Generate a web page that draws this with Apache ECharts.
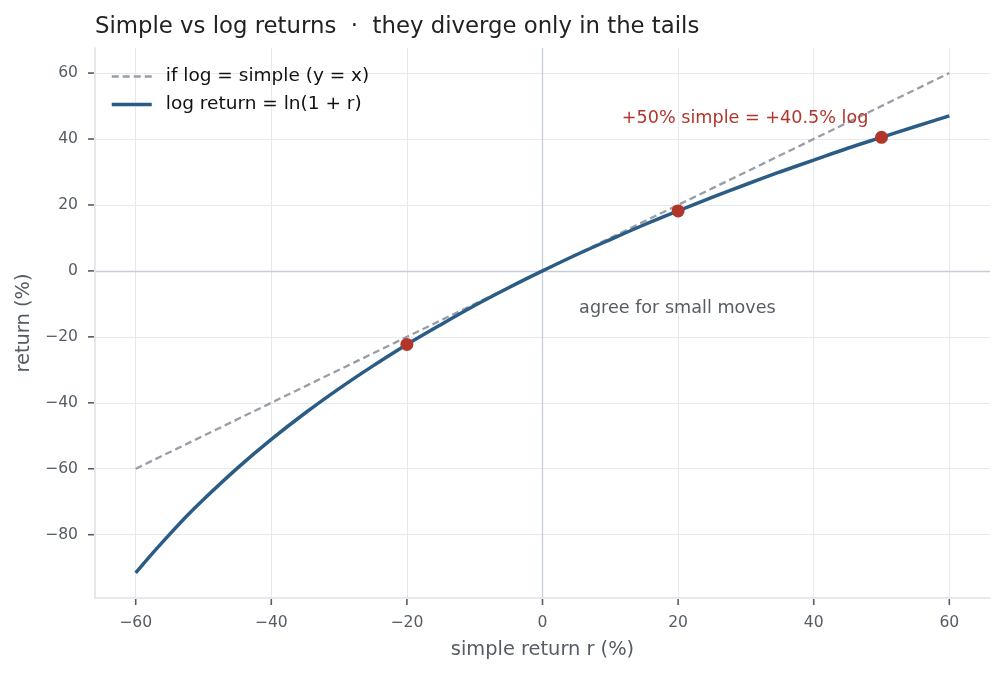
<!DOCTYPE html>
<html>
<head>
<meta charset="utf-8">
<script src="https://cdn.jsdelivr.net/npm/echarts@6/dist/echarts.min.js"></script>
<style>
  html, body { margin: 0; padding: 0; background: #fff; }
  #main { width: 1005px; height: 674px; }
</style>
</head>
<body>
<div id="main"></div>
<script>
// simple return r (%)
const simpleX = [-60, -57.5, -55, -52.5, -50, -45, -40, -35, -30, -25, -20, -15, -10, -5, 0,
    5, 10, 15, 20, 25, 30, 35, 40, 45, 50, 55, 60]
// log return (%) at those points
const logY = [-91.6, -85.6, -79.9, -74.4, -69.3, -59.8, -51.1, -43.1, -35.7, -28.8, -22.3, -16.3, -10.5, -5.1, 0,
    4.9, 9.5, 14.0, 18.2, 22.3, 26.2, 30.0, 33.6, 37.2, 40.5, 43.8, 47.0]
// y = x reference
const refX = [-60, 60]
const refY = [-60, 60]
// highlighted points
const markX = [-20, 20, 50]
const markY = [-22.3, 18.2, 40.5]

const xTicks = [-60, -40, -20, 0, 20, 40, 60]
const yTicks = [-80, -60, -40, -20, 0, 20, 40, 60]

const X_MIN = -66
const X_MAX = 66
const Y_MIN = -99.2
const Y_MAX = 67.6

const font = 'DejaVu Sans'
const labelColor = '#555c66'
const blue = '#2b5c86'
const grey = '#989ea7'
const red = '#b0362c'
const fmt = (v) => String(v).replace('-', '\u2212')

const chart = echarts.init(document.getElementById('main'))

const gridLines = [
    ...xTicks.filter((v) => v !== 0).map((v) => ({ xAxis: v })),
    ...yTicks.filter((v) => v !== 0).map((v) => ({ yAxis: v })),
]

// small outward tick marks drawn through the axis scales
const tickSeries = (vals, horiz) => ({
    type: 'custom',
    silent: true,
    clip: false,
    data: vals,
    renderItem: (params, api) => {
        const v = api.value(0)
        const p = horiz ? api.coord([v, Y_MIN]) : api.coord([X_MIN, v])
        const shape = horiz
            ? { x1: p[0], y1: p[1] + 1, x2: p[0], y2: p[1] + 7 }
            : { x1: p[0] - 1, y1: p[1], x2: p[0] - 7, y2: p[1] }
        return { type: 'line', shape, style: { stroke: labelColor, lineWidth: 1.6 } }
    },
    z: 6,
})

chart.setOption({
    animation: false,
    textStyle: { fontFamily: font },
    title: {
        text: 'Simple vs log returns  \u00b7  they diverge only in the tails',
        left: 90,
        top: 11,
        textStyle: { fontFamily: font, fontSize: 22.8, fontWeight: 'normal', color: '#222' },
    },
    legend: {
        left: 105,
        top: 62,
        orient: 'vertical',
        itemGap: 9,
        itemWidth: 40,
        itemHeight: 12,
        itemStyle: { opacity: 0, borderWidth: 0 },
        textStyle: { fontFamily: font, fontSize: 18.5, color: '#111', padding: [0, 0, 0, 9] },
        data: [
            { name: 'if log = simple (y = x)', lineStyle: { color: grey, width: 2.4, type: [7, 4] } },
            { name: 'log return = ln(1 + r)', lineStyle: { color: blue, width: 3.5 } },
        ],
    },
    grid: { left: 95, right: 15, top: 48, bottom: 76 },
    xAxis: {
        type: 'value',
        min: X_MIN,
        max: X_MAX,
        name: 'simple return r (%)',
        nameLocation: 'middle',
        nameGap: 42,
        nameTextStyle: { fontFamily: font, fontSize: 19.4, color: labelColor },
        axisLine: { onZero: false, lineStyle: { color: '#e1e2e8', width: 1.6 } },
        axisTick: { show: false },
        axisLabel: { customValues: xTicks, formatter: fmt, fontSize: 15.6, color: labelColor, margin: 17 },
        splitLine: { show: false },
    },
    yAxis: {
        type: 'value',
        min: Y_MIN,
        max: Y_MAX,
        name: 'return (%)',
        nameLocation: 'middle',
        nameGap: 62,
        nameTextStyle: { fontFamily: font, fontSize: 19.4, color: labelColor },
        axisLine: { show: true, onZero: false, lineStyle: { color: '#e1e2e8', width: 1.6 } },
        axisTick: { show: false },
        axisLabel: { customValues: yTicks, formatter: fmt, fontSize: 15.6, color: labelColor, margin: 17 },
        splitLine: { show: false },
    },
    series: [
        {
            // grid and zero lines, kept under everything else
            type: 'line',
            data: [],
            silent: true,
            z: 0,
            markLine: {
                silent: true,
                z: 0,
                symbol: 'none',
                label: { show: false },
                lineStyle: { color: '#e8e9ed', width: 1, type: 'solid' },
                data: [
                    ...gridLines,
                    { xAxis: 0, lineStyle: { color: '#c6cdd9', width: 1.3 } },
                    { yAxis: 0, lineStyle: { color: '#c6cdd9', width: 1.3 } },
                ],
            },
        },
        tickSeries(xTicks, true),
        tickSeries(yTicks, false),
        {
            name: 'if log = simple (y = x)',
            type: 'line',
            data: refX.map((x, i) => [x, refY[i]]),
            symbol: 'none',
            lineStyle: { color: grey, width: 2.3, type: [7, 4] },
            itemStyle: { color: grey },
            z: 2,
        },
        {
            name: 'log return = ln(1 + r)',
            type: 'line',
            data: simpleX.map((x, i) => [x, logY[i]]),
            symbol: 'none',
            smooth: 0.3,
            lineStyle: { color: blue, width: 3.5 },
            itemStyle: { color: blue },
            z: 3,
        },
        {
            type: 'scatter',
            data: markX.map((x, i) => [x, markY[i]]),
            symbolSize: 13,
            itemStyle: { color: red, opacity: 1 },
            z: 4,
        },
        {
            type: 'scatter',
            data: [
                { value: [11.7, 46.2], label: { formatter: '+50% simple = +40.5% log', color: red } },
                { value: [5.4, -11.4], label: { formatter: 'agree for small moves', color: labelColor } },
            ],
            symbolSize: 0,
            silent: true,
            itemStyle: { opacity: 1 },
            label: {
                show: true,
                position: 'right',
                distance: 0,
                fontFamily: font,
                fontSize: 17.6,
            },
            z: 5,
        },
    ],
})
</script>
</body>
</html>
